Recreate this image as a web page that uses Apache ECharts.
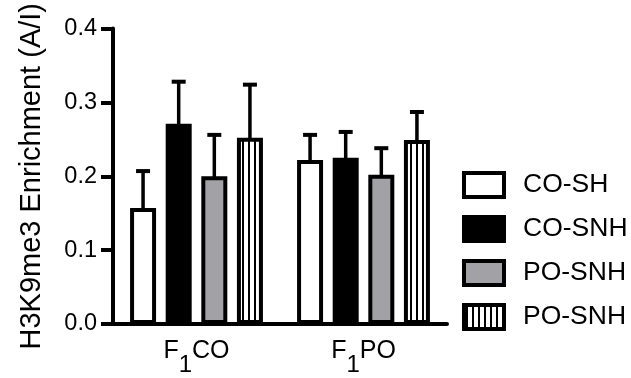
<!DOCTYPE html>
<html>
<head>
<meta charset="utf-8">
<script src="https://cdn.jsdelivr.net/npm/echarts@6/dist/echarts.min.js"></script>
<style>
html,body{margin:0;padding:0;background:#fff;}
#chart{width:631px;height:378px;}
</style>
</head>
<body>
<div id="chart"></div>
<script>
// ---- data ----
const categories = ['F1CO', 'F1PO'];
const seriesNames = ['CO-SH', 'CO-SNH', 'PO-SNH', 'PO-SNH '];
const coSH = [0.157, 0.222];
const coSNH = [0.271, 0.225];
const poSNH = [0.200, 0.202];
const poSNH2 = [0.252, 0.249];
const coSHErr = [0.050, 0.034];
const coSNHErr = [0.057, 0.035];
const poSNHErr = [0.056, 0.036];
const poSNH2Err = [0.072, 0.038];
const yTicks = [0.0, 0.1, 0.2, 0.3, 0.4];

const means = [coSH, coSNH, poSNH, poSNH2];
const errs = [coSHErr, coSNHErr, poSNHErr, poSNH2Err];

// stripe pattern
const pat = document.createElement('canvas');
pat.width = 6; pat.height = 6;
const pctx = pat.getContext('2d');
pctx.fillStyle = '#fff'; pctx.fillRect(0, 0, 6, 6);
pctx.fillStyle = '#000'; pctx.fillRect(2, 0, 2, 6);

const fills = ['#ffffff', '#000000', '#a2a2a6', {image: pat, repeat: 'repeat'}];
const FONT = 'Liberation Sans, Arial, Helvetica, sans-serif';
const BAR_W = 26;
const BAR_GAP = 0.37;

const chart = echarts.init(document.getElementById('chart'), null, {renderer: 'canvas'});

const series = [];
means.forEach((m, i) => {
  series.push({
    name: seriesNames[i],
    type: 'bar',
    data: m,
    barWidth: BAR_W,
    barGap: (BAR_GAP * 100) + '%',
    itemStyle: {color: fills[i], borderColor: '#000', borderWidth: 4},
    z: 3,
    animation: false
  });
});
means.forEach((m, i) => {
  series.push({
    type: 'custom',
    name: 'err' + i,
    data: m.map((v, k) => [k, v, v + errs[i][k]]),
    encode: {x: 0, y: [1, 2]},
    z: 2,
    animation: false,
    renderItem: function (params, api) {
      const off = (i - 1.5) * BAR_W * (1 + BAR_GAP);
      const lo = api.coord([api.value(0), api.value(1)]);
      const hi = api.coord([api.value(0), api.value(2)]);
      const x = lo[0] + off;
      return {
        type: 'group',
        children: [
          {type: 'line', shape: {x1: x, y1: lo[1] + 2, x2: x, y2: hi[1]}, style: {stroke: '#000', lineWidth: 3.5}},
          {type: 'line', shape: {x1: x - 7, y1: hi[1], x2: x + 7, y2: hi[1]}, style: {stroke: '#000', lineWidth: 4}}
        ]
      };
    }
  });
});

chart.setOption({
  backgroundColor: '#fff',
  animation: false,
  grid: {left: 113, right: 184, top: 24, bottom: 54},
  legend: {
    data: seriesNames,
    orient: 'vertical',
    left: 462,
    top: 171,
    padding: 0,
    icon: 'rect',
    itemWidth: 40,
    itemHeight: 24,
    itemGap: 16,
    itemStyle: {borderColor: '#000', borderWidth: 4},
    textStyle: {fontFamily: FONT, fontSize: 26.5, color: '#000', lineHeight: 24, padding: [0, 0, 0, 14]},
    selectedMode: false
  },
  xAxis: {
    type: 'category',
    data: categories,
    axisLine: {lineStyle: {color: '#000', width: 4}},
    axisTick: {alignWithLabel: true, length: 12, lineStyle: {color: '#000', width: 4}},
    axisLabel: {
      margin: 15,
      formatter: v => '{a|' + v.charAt(0) + '}{s|' + v.charAt(1) + '}{a|' + v.slice(2) + '}',
      rich: {
        a: {fontFamily: FONT, fontSize: 25, color: '#000', lineHeight: 28, verticalAlign: 'top'},
        s: {fontFamily: FONT, fontSize: 24, color: '#000', lineHeight: 38, verticalAlign: 'bottom'}
      }
    }
  },
  yAxis: {
    type: 'value',
    min: yTicks[0],
    max: yTicks[yTicks.length - 1],
    interval: 0.1,
    name: 'H3K9me3 Enrichment (A/I)',
    nameLocation: 'middle',
    nameGap: 67,
    nameTextStyle: {fontFamily: FONT, fontSize: 29, color: '#000'},
    splitLine: {show: false},
    axisLine: {show: true, lineStyle: {color: '#000', width: 4}},
    axisTick: {show: true, length: 12, lineStyle: {color: '#000', width: 4}},
    axisLabel: {margin: 16, fontFamily: FONT, fontSize: 23.5, color: '#000', formatter: v => v.toFixed(1)}
  },
  series: series
});
</script>
</body>
</html>
